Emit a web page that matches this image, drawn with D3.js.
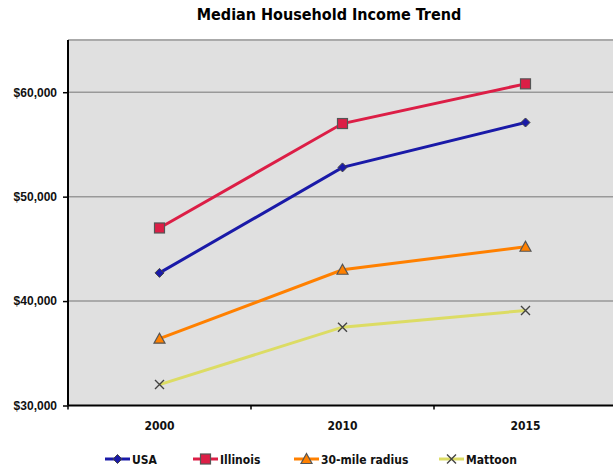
<!DOCTYPE html>
<html>
<head>
<meta charset="utf-8">
<script src="https://cdn.jsdelivr.net/npm/d3@7"></script>
<style>
  body { margin: 0; background: #fff; }
  svg { display: block; font-family: "DejaVu Sans Condensed", "DejaVu Sans", sans-serif; }
</style>
</head>
<body>
<svg id="chart" width="613" height="473"></svg>
<script>
// Median household income by year
const years = ["2000", "2010", "2015"];
const usa = [42700, 52800, 57100];
const illinois = [47000, 57000, 60800];
const radius30 = [36400, 43000, 45200];
const mattoon = [32000, 37500, 39100];
const yTicks = [30000, 40000, 50000, 60000];

const seriesList = [
  { name: "USA", values: usa, color: "#1a1aa8", marker: "diamond" },
  { name: "Illinois", values: illinois, color: "#dc1e46", marker: "square" },
  { name: "30-mile radius", values: radius30, color: "#ff8000", marker: "triangle" },
  { name: "Mattoon", values: mattoon, color: "#dcdc64", marker: "x" }
];

const svg = d3.select("#chart");
const plotLeft = 68, plotRight = 617, plotTop = 40, plotBottom = 405.5;

const x = d3.scaleBand().domain(years).range([plotLeft, plotRight]);
const y = d3.scaleLinear().domain([30000, 65000]).range([plotBottom, plotTop]);

// Title
svg.append("text")
  .attr("x", 329).attr("y", 20)
  .attr("text-anchor", "middle")
  .attr("font-size", 16).attr("font-weight", "bold")
  .attr("fill", "#000")
  .text("Median Household Income Trend");

// Plot background
svg.append("rect")
  .attr("x", plotLeft).attr("y", plotTop)
  .attr("width", plotRight - plotLeft).attr("height", plotBottom - plotTop)
  .attr("fill", "#e0e0e0");

// Top border
svg.append("line")
  .attr("x1", plotLeft).attr("x2", plotRight)
  .attr("y1", plotTop).attr("y2", plotTop)
  .attr("stroke", "#aaaaaa").attr("stroke-width", 2);

// Horizontal gridlines
svg.append("g")
  .selectAll("line")
  .data(yTicks.filter(d => d > 30000))
  .join("line")
  .attr("x1", plotLeft).attr("x2", plotRight)
  .attr("y1", d => y(d)).attr("y2", d => y(d))
  .attr("stroke", "#999999").attr("stroke-width", 1.5);

// Y axis
const yAxis = svg.append("g")
  .attr("transform", `translate(${plotLeft},0)`)
  .call(d3.axisLeft(y).tickValues(yTicks).tickSize(5).tickPadding(6)
    .tickFormat(d => "$" + d3.format(",")(d)));
yAxis.select(".domain").attr("stroke", "#000").attr("stroke-width", 2)
  .attr("d", `M0,${plotTop}V${plotBottom}`);
yAxis.selectAll(".tick line").attr("stroke", "#000").attr("stroke-width", 1.5);
yAxis.selectAll(".tick text").attr("font-size", 12).attr("font-weight", "bold")
  .attr("fill", "#111").attr("font-family", "inherit");

// X axis (ticks between categories)
const xAxis = svg.append("g")
  .attr("transform", `translate(0,${plotBottom})`);
xAxis.append("line")
  .attr("x1", plotLeft).attr("x2", plotRight)
  .attr("stroke", "#000").attr("stroke-width", 2);
const boundaries = years.map(d => x(d)).concat([plotRight]);
xAxis.selectAll(".tb")
  .data(boundaries)
  .join("line")
  .attr("class", "tb")
  .attr("x1", d => d).attr("x2", d => d)
  .attr("y1", 0).attr("y2", 4)
  .attr("stroke", "#000").attr("stroke-width", 1.5);
xAxis.selectAll(".yl")
  .data(years)
  .join("text")
  .attr("class", "yl")
  .attr("x", d => x(d) + x.bandwidth() / 2)
  .attr("y", 24.5)
  .attr("text-anchor", "middle")
  .attr("font-size", 12).attr("font-weight", "bold")
  .attr("fill", "#111")
  .text(d => d);

const cx = d => x(d) + x.bandwidth() / 2;

function drawMarker(g, type, color, px, py) {
  const s = 4.5;
  if (type === "diamond") {
    g.append("path")
      .attr("d", `M${px},${py - s}L${px + s},${py}L${px},${py + s}L${px - s},${py}Z`)
      .attr("fill", color).attr("stroke", "#444").attr("stroke-width", 1);
  } else if (type === "square") {
    g.append("rect")
      .attr("x", px - 5).attr("y", py - 5).attr("width", 10).attr("height", 10)
      .attr("fill", color).attr("stroke", "#555").attr("stroke-width", 1.2);
  } else if (type === "triangle") {
    g.append("path")
      .attr("d", `M${px},${py - 5.5}L${px + 5.5},${py + 4.5}L${px - 5.5},${py + 4.5}Z`)
      .attr("fill", color).attr("stroke", "#555").attr("stroke-width", 1.2);
  } else if (type === "x") {
    g.append("path")
      .attr("d", `M${px - 4.5},${py - 4.5}L${px + 4.5},${py + 4.5}M${px + 4.5},${py - 4.5}L${px - 4.5},${py + 4.5}`)
      .attr("stroke", "#444").attr("stroke-width", 1.4).attr("fill", "none");
  }
}

const line = d3.line().x(d => cx(d[0])).y(d => y(d[1]));

// Series lines and markers
seriesList.forEach(s => {
  const pts = years.map((yr, i) => [yr, s.values[i]]);
  const g = svg.append("g");
  g.append("path")
    .attr("d", line(pts))
    .attr("fill", "none")
    .attr("stroke", s.color)
    .attr("stroke-width", 3);
  pts.forEach(p => drawMarker(g, s.marker, s.color, cx(p[0]), y(p[1])));
});

// Legend
const legendX = [105, 193, 294, 439];
const legendY = 459;
seriesList.forEach((s, i) => {
  const g = svg.append("g");
  const lx = legendX[i];
  g.append("line")
    .attr("x1", lx).attr("x2", lx + 25)
    .attr("y1", legendY).attr("y2", legendY)
    .attr("stroke", s.color).attr("stroke-width", 3);
  drawMarker(g, s.marker, s.color, lx + 12.5, legendY);
  g.append("text")
    .attr("x", lx + 27).attr("y", legendY + 5)
    .attr("font-size", 12).attr("font-weight", "bold")
    .attr("fill", "#111")
    .text(s.name);
});
</script>
</body>
</html>
